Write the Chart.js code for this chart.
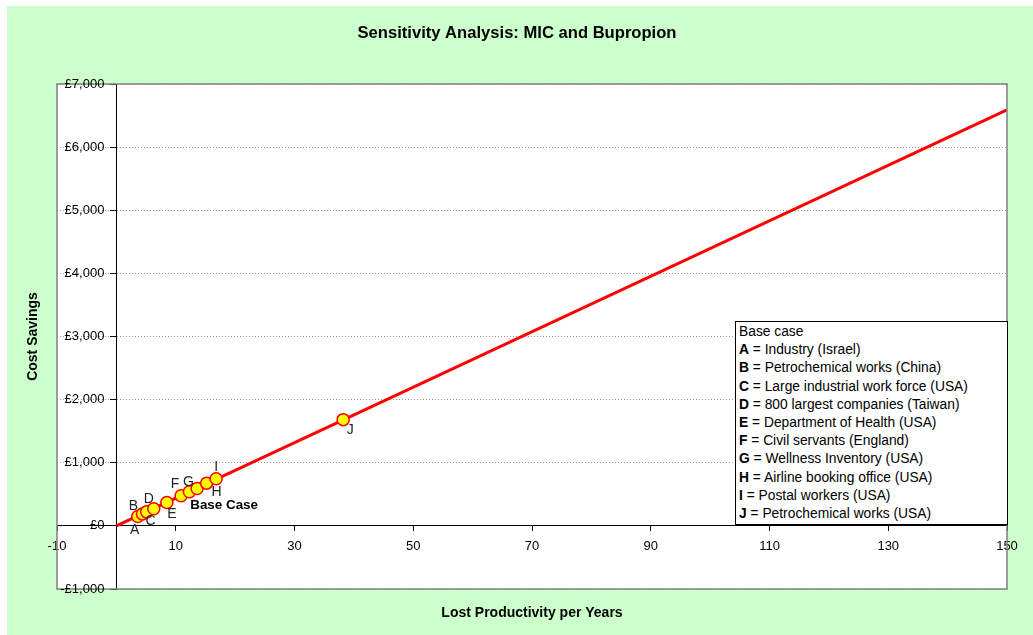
<!DOCTYPE html>
<html>
<head>
<meta charset="utf-8">
<title>Sensitivity Analysis: MIC and Bupropion</title>
<script src="https://cdn.jsdelivr.net/npm/chart.js@4.4.1/dist/chart.umd.min.js"></script>
<style>
  html, body { margin: 0; padding: 0; background: #fff; }
  #wrap { position: relative; width: 1033px; height: 635px; }
  #legendBox {
    position: absolute; left: 735px; top: 321px; width: 273px; height: 204px;
    background: #fff; border: 1px solid #000; box-sizing: border-box;
    padding: 1px 0 0 3px; color: #000; white-space: nowrap;
    font: 13.8px "Liberation Sans", Arial, sans-serif; line-height: 18.2px;
  }
  #legendBox b { font-weight: bold; }
</style>
</head>
<body>
<div id="wrap">
  <canvas id="chart" width="1033" height="635"></canvas>
  <div id="legendBox"></div>
</div>
<script>
// data
const pointNames = ['A', 'B', 'C', 'D', 'E', 'F', 'G', 'Base Case', 'H', 'I', 'J']
const lostProductivity = [3.6, 4.4, 5.1, 6.3, 8.5, 10.9, 12.3, 13.6, 15.2, 16.8, 38.2]
const costSavings = [148, 190, 222, 270, 370, 476, 540, 592, 677, 746, 1683]
const lineX = [0, 150]
const lineY = [0, 6590]
const xTicks = [-10, 10, 30, 50, 70, 90, 110, 130, 150]
const yTicks = [-1000, 0, 1000, 2000, 3000, 4000, 5000, 6000, 7000]
const legendLetters = ['A', 'B', 'C', 'D', 'E', 'F', 'G', 'H', 'I', 'J']
const legendTexts = [
  'Industry (Israel)',
  'Petrochemical works (China)',
  'Large industrial work force (USA)',
  '800 largest companies (Taiwan)',
  'Department of Health (USA)',
  'Civil servants (England)',
  'Wellness Inventory (USA)',
  'Airline booking office (USA)',
  'Postal workers (USA)',
  'Petrochemical works (USA)'
]

const FONT = '"Liberation Sans", Arial, sans-serif'

// label offsets from each point (pixels)
const labelOffsets = {
  'A': [-3, 14], 'B': [-9, -8], 'C': [4, 9], 'D': [-5, -10], 'E': [5, 12],
  'F': [-6, -12], 'G': [-1, -10], 'Base Case': [27, 17], 'H': [10, 9],
  'I': [0, -12], 'J': [7, 11]
}

const poundFmt = v => (v < 0 ? '-£' : '£') + Math.abs(v).toLocaleString('en-GB')

const legendBox = document.getElementById('legendBox')
legendBox.innerHTML = 'Base case<br>' + legendLetters.map((l, i) =>
  `<b>${l}</b> = ${legendTexts[i]}`).join('<br>')

const frame = {
  id: 'frame',
  beforeDraw(chart) {
    const { ctx, chartArea: a } = chart
    ctx.save()
    ctx.fillStyle = '#ccffcc'
    ctx.fillRect(7, 6, chart.width - 7, chart.height - 6)
    ctx.fillStyle = '#ffffff'
    ctx.fillRect(a.left, a.top, a.right - a.left, a.bottom - a.top)
    ctx.restore()
  },
  afterDatasetsDraw(chart) {
    const { ctx, chartArea: a, scales } = chart
    ctx.save()
    ctx.strokeStyle = '#808080'
    ctx.lineWidth = 1.5
    ctx.strokeRect(a.left, a.top, a.right - a.left, a.bottom - a.top)

    // y tick labels, next to the axis at x = 0
    const axisX = scales.x.getPixelForValue(0)
    ctx.fillStyle = '#000'
    ctx.font = '13px ' + FONT
    ctx.textAlign = 'right'
    ctx.textBaseline = 'middle'
    scales.y.ticks.forEach(t => {
      ctx.fillText(poundFmt(t.value), axisX - 12, scales.y.getPixelForValue(t.value))
    })

    // point labels
    ctx.textAlign = 'center'
    pointNames.forEach((name, i) => {
      const px = scales.x.getPixelForValue(lostProductivity[i])
      const py = scales.y.getPixelForValue(costSavings[i])
      const [dx, dy] = labelOffsets[name]
      ctx.font = name === 'Base Case' ? 'bold 13.4px ' + FONT : '14px ' + FONT
      ctx.fillStyle = name === 'Base Case' ? '#000' : '#222'
      ctx.fillText(name, px + dx, py + dy)
    })

    // titles
    ctx.fillStyle = '#000'
    ctx.font = 'bold 16.6px ' + FONT
    ctx.fillText('Sensitivity Analysis: MIC and Bupropion', 517, 33)
    ctx.font = 'bold 14px ' + FONT
    ctx.fillText('Lost Productivity per Years', (a.left + a.right) / 2, 613)
    ctx.translate(33, (a.top + a.bottom) / 2)
    ctx.rotate(-Math.PI / 2)
    ctx.fillText('Cost Savings', 0, 0)
    ctx.restore()
  }
}

const ctx = document.getElementById('chart').getContext('2d')
const chart = new Chart(ctx, {
  type: 'scatter',
  data: {
    datasets: [
      {
        type: 'line',
        data: lineX.map((x, i) => ({ x, y: lineY[i] })),
        borderColor: '#ff0000',
        borderWidth: 3,
        pointRadius: 0,
        order: 2
      },
      {
        data: lostProductivity.map((x, i) => ({ x, y: costSavings[i] })),
        pointRadius: 6,
        pointBackgroundColor: '#ffff00',
        pointBorderColor: '#ff0000',
        pointBorderWidth: 1.5,
        order: 1
      }
    ]
  },
  options: {
    responsive: false,
    animation: false,
    layout: { padding: { left: 57, top: 84, right: 26, bottom: 46 } },
    plugins: { legend: { display: false }, tooltip: { enabled: false } },
    scales: {
      x: {
        type: 'linear',
        position: { y: 0 },
        min: -10,
        max: 150,
        afterBuildTicks: s => { s.ticks = xTicks.map(v => ({ value: v })) },
        grid: { drawOnChartArea: false, tickLength: 5, color: '#000' },
        border: { color: '#000', width: 1 },
        ticks: { color: '#000', padding: 8, font: { family: FONT, size: 13 }, maxRotation: 0 }
      },
      y: {
        type: 'linear',
        position: { x: 0 },
        min: -1000,
        max: 7000,
        afterBuildTicks: s => { s.ticks = yTicks.map(v => ({ value: v })) },
        grid: { color: '#999', tickLength: 6, tickColor: '#000' },
        border: { color: '#000', width: 1, dash: [1, 2] },
        ticks: { display: false }
      }
    }
  },
  plugins: [frame]
})
</script>
</body>
</html>
